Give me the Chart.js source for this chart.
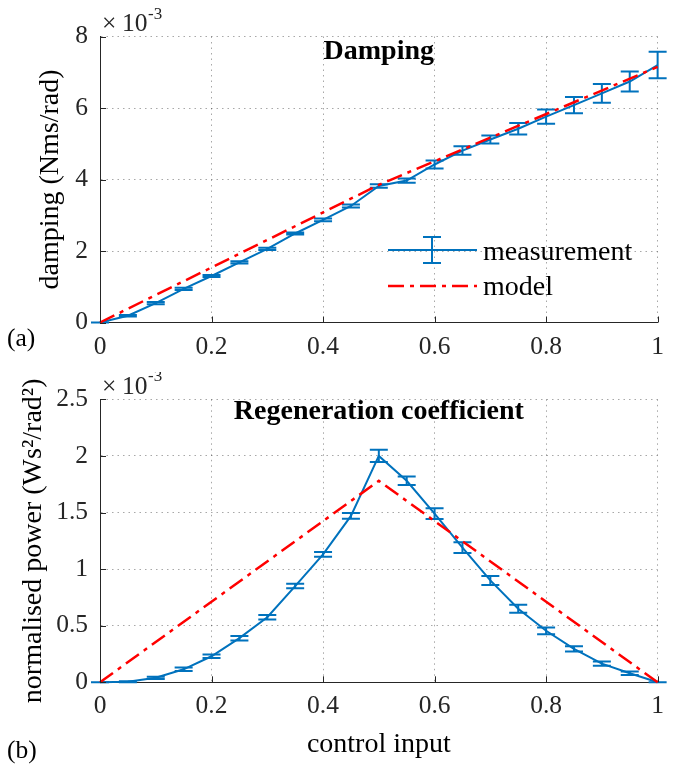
<!DOCTYPE html>
<html>
<head>
<meta charset="utf-8">
<script src="https://cdn.jsdelivr.net/npm/chart.js@4.4.0/dist/chart.umd.min.js"></script>
<style>
  body { margin: 0; background: #fff; }
  #wrap { position: relative; width: 673px; height: 772px; }
  canvas { position: absolute; left: 0; }
</style>
</head>
<body>
<div id="wrap">
  <canvas id="dampChart" width="673" height="372" style="top:0"></canvas>
  <canvas id="regenChart" width="673" height="400" style="top:372px"></canvas>
</div>
<script>
// control input (x axis, both panels)
const controlInput = [0, 0.05, 0.1, 0.15, 0.2, 0.25, 0.3, 0.35, 0.4, 0.45, 0.5,
                      0.55, 0.6, 0.65, 0.7, 0.75, 0.8, 0.85, 0.9, 0.95, 1];
const xTicks = [0, 0.2, 0.4, 0.6, 0.8, 1];

// (a) damping, units of 1e-3 Nms/rad
const dampingMeas = [0, 0.19, 0.54, 0.94, 1.30, 1.68, 2.06, 2.49, 2.87, 3.26, 3.82,
                     3.97, 4.42, 4.81, 5.12, 5.42, 5.76, 6.08, 6.41, 6.74, 7.20];
const dampingErr = [0, 0.02, 0.03, 0.03, 0.03, 0.03, 0.03, 0.03, 0.04, 0.04, 0.05,
                    0.06, 0.11, 0.12, 0.11, 0.16, 0.20, 0.23, 0.26, 0.28, 0.37];
const dampingModelX = [0, 0.5, 1];
const dampingModelY = [0, 3.85, 7.15];
const dampingTicks = [0, 2, 4, 6, 8];

// (b) regeneration coefficient, units of 1e-3 Ws^2/rad^2
const regenMeas = [0, 0.005, 0.04, 0.115, 0.23, 0.39, 0.575, 0.85, 1.13, 1.47, 2.0,
                   1.78, 1.49, 1.19, 0.90, 0.65, 0.455, 0.295, 0.165, 0.08, 0];
const regenErr = [0, 0.005, 0.01, 0.015, 0.015, 0.02, 0.02, 0.02, 0.02, 0.025, 0.054,
                  0.037, 0.048, 0.047, 0.04, 0.035, 0.03, 0.024, 0.018, 0.015, 0];
const regenModelX = [0, 0.5, 1];
const regenModelY = [0, 1.78, 0];
const regenTicks = [0, 0.5, 1, 1.5, 2, 2.5];

const BLUE = '#0072BD';
const RED = '#FF0000';
const AXIS = '#262626';
const SERIF = '"Liberation Serif", "Times New Roman", serif';
const MODEL_DASH = [16, 6, 4, 6];

// error bars + text bits that matlab puts inside the axes
const matlabStyle = {
  id: 'matlabStyle',
  afterDatasetDraw(chart, args) {
    const ds = chart.data.datasets[args.index];
    if (!ds.errors) return;
    const ctx = chart.ctx;
    const xs = chart.scales.x, ys = chart.scales.y;
    ctx.save();
    ctx.strokeStyle = ds.borderColor;
    ctx.lineWidth = 2;
    ds.data.forEach((p, i) => {
      const px = xs.getPixelForValue(p.x);
      const top = ys.getPixelForValue(p.y + ds.errors[i]);
      const bot = ys.getPixelForValue(p.y - ds.errors[i]);
      ctx.beginPath();
      ctx.moveTo(px, top); ctx.lineTo(px, bot);
      ctx.moveTo(px - 9, top); ctx.lineTo(px + 9, top);
      ctx.moveTo(px - 9, bot); ctx.lineTo(px + 9, bot);
      ctx.stroke();
    });
    ctx.restore();
  },
  afterDraw(chart, args, opts) {
    const ctx = chart.ctx;
    const a = chart.chartArea;
    const xs = chart.scales.x, ys = chart.scales.y;
    ctx.save();
    // inward tick marks
    ctx.strokeStyle = AXIS;
    ctx.lineWidth = 1;
    ctx.beginPath();
    xs.ticks.forEach(t => {
      const px = Math.round(xs.getPixelForValue(t.value)) + 0.5;
      ctx.moveTo(px, a.bottom); ctx.lineTo(px, a.bottom - 6);
    });
    ys.ticks.forEach(t => {
      const py = Math.round(ys.getPixelForValue(t.value)) + 0.5;
      ctx.moveTo(a.left, py); ctx.lineTo(a.left + 6, py);
    });
    ctx.stroke();

    ctx.fillStyle = '#000';
    // title inside axes
    ctx.font = 'bold 28px ' + SERIF;
    ctx.textAlign = 'center';
    ctx.textBaseline = 'alphabetic';
    ctx.fillText(opts.title, (a.left + a.right) / 2, a.top + opts.titleDy);

    // x10^-3 exponent
    ctx.fillStyle = AXIS;
    ctx.textAlign = 'left';
    ctx.font = '25.5px ' + SERIF;
    ctx.fillText('\u00d7', a.left + 2, a.top - 5.5);
    ctx.fillText('10', a.left + 22, a.top - 5.5);
    ctx.font = '17px ' + SERIF;
    ctx.fillText('-3', a.left + 48, a.top - 18);

    // panel letter
    ctx.fillStyle = '#000';
    ctx.font = '25.5px ' + SERIF;
    ctx.fillText(opts.panel, 7, opts.panelY);

    // legend
    if (opts.legend) {
      const lx = 388, lx2 = 477, tx = 483;
      ctx.lineWidth = 2;
      ctx.strokeStyle = BLUE;
      ctx.beginPath();
      ctx.moveTo(lx, 250); ctx.lineTo(lx2, 250);
      ctx.moveTo(432, 237); ctx.lineTo(432, 263);
      ctx.moveTo(423, 237); ctx.lineTo(441, 237);
      ctx.moveTo(423, 263); ctx.lineTo(441, 263);
      ctx.stroke();
      ctx.strokeStyle = RED;
      ctx.lineWidth = 2.5;
      ctx.setLineDash(MODEL_DASH);
      ctx.beginPath();
      ctx.moveTo(lx, 286); ctx.lineTo(lx2, 286);
      ctx.stroke();
      ctx.setLineDash([]);
      ctx.fillStyle = '#000';
      ctx.font = '28px ' + SERIF;
      ctx.fillText('measurement', tx, 260);
      ctx.fillText('model', tx, 295);
    }
    ctx.restore();
  }
};

function pts(xsArr, ysArr) {
  return xsArr.map((x, i) => ({ x: x, y: ysArr[i] }));
}

function makeChart(id, cfg) {
  const gridStyle = {
    color: 'rgba(38,38,38,0.4)',
    lineWidth: 1,
    drawTicks: false
  };
  // solid axis line, dotted grid lines (v4: border.dash applies to grid)
  const borderStyle = { display: true, color: AXIS, width: 1, dash: [1.5, 4] };
  return new Chart(document.getElementById(id), {
    type: 'line',
    data: {
      datasets: [
        {
          label: 'measurement',
          data: pts(controlInput, cfg.meas),
          errors: cfg.err,
          borderColor: BLUE,
          borderWidth: 2,
          pointRadius: 0,
          fill: false,
          tension: 0,
          clip: 12,
          order: 2
        },
        {
          label: 'model',
          data: pts(cfg.modelX, cfg.modelY),
          borderColor: RED,
          borderWidth: 2.5,
          borderDash: MODEL_DASH,
          pointRadius: 0,
          fill: false,
          tension: 0,
          clip: 12,
          order: 1
        }
      ]
    },
    options: {
      responsive: false,
      animation: false,
      events: [],
      layout: {
        autoPadding: false,
        padding: { top: cfg.padTop, left: 0, right: 6, bottom: 0 }
      },
      plugins: {
        legend: { display: false },
        tooltip: { enabled: false },
        matlabStyle: {
          title: cfg.title, titleDy: cfg.titleDy,
          panel: cfg.panel, panelY: cfg.panelY,
          legend: cfg.legend
        }
      },
      scales: {
        x: {
          type: 'linear',
          min: 0, max: 1,
          afterBuildTicks: s => { s.ticks = xTicks.map(v => ({ value: v })); },
          afterFit: s => { s.height = cfg.xHeight; },
          grid: gridStyle,
          border: borderStyle,
          ticks: {
            padding: 9,
            color: AXIS,
            maxRotation: 0,
            font: { family: SERIF, size: 25.5 },
            callback: v => String(v)
          },
          title: cfg.xTitle ? {
            display: true,
            text: cfg.xTitle,
            color: '#000',
            font: { family: SERIF, size: 28 },
            padding: { top: 0, bottom: 11 }
          } : { display: false }
        },
        y: {
          type: 'linear',
          min: 0, max: cfg.yMax,
          afterBuildTicks: s => { s.ticks = cfg.yTicks.map(v => ({ value: v })); },
          afterFit: s => { s.width = 100; },
          grid: gridStyle,
          border: borderStyle,
          ticks: {
            padding: 12,
            color: AXIS,
            font: { family: SERIF, size: 25.5 },
            callback: v => String(v)
          },
          title: {
            display: true,
            text: cfg.yTitle,
            color: '#000',
            font: { family: SERIF, size: 28 },
            padding: { top: cfg.yTitlePad, bottom: 0 }
          }
        }
      }
    },
    plugins: [matlabStyle]
  });
}

makeChart('dampChart', {
  meas: dampingMeas, err: dampingErr,
  modelX: dampingModelX, modelY: dampingModelY,
  yMax: 8, yTicks: dampingTicks,
  yTitle: 'damping (Nms/rad)', yTitlePad: 34,
  title: 'Damping', titleDy: 22,
  panel: '(a)', panelY: 346,
  padTop: 36.5, xHeight: 49.5,
  legend: true
});

makeChart('regenChart', {
  meas: regenMeas, err: regenErr,
  modelX: regenModelX, modelY: regenModelY,
  yMax: 2.5, yTicks: regenTicks,
  yTitle: 'normalised power (Ws\u00b2/rad\u00b2)', yTitlePad: 17,
  xTitle: 'control input',
  title: 'Regeneration coefficient', titleDy: 19.5,
  panel: '(b)', panelY: 386,
  padTop: 26.3, xHeight: 89.7,
  legend: false
});
</script>
</body>
</html>
